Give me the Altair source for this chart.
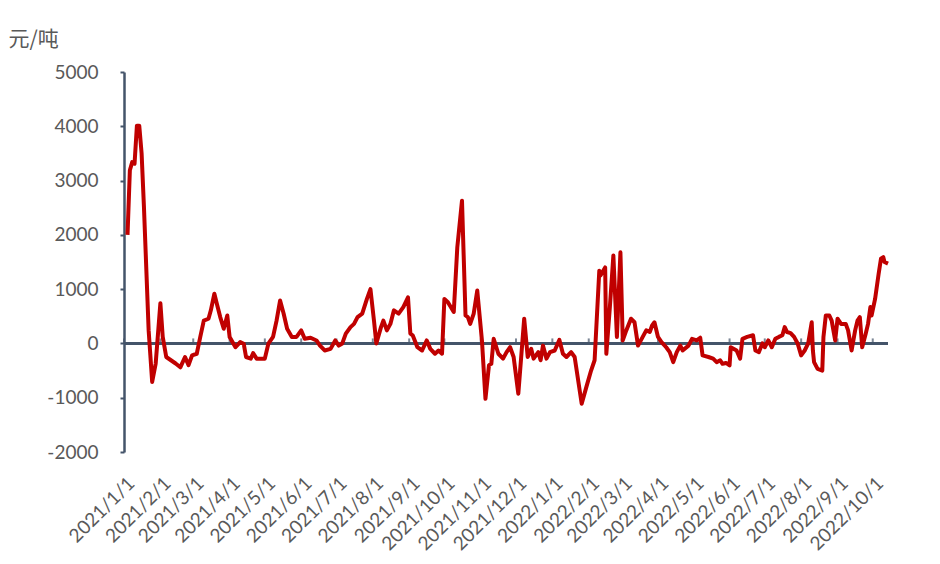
import altair as alt
import pandas as pd

dates = [
    "2021-01-04", "2021-01-06", "2021-01-08", "2021-01-10", "2021-01-12", "2021-01-14", "2021-01-16", "2021-01-18",
    "2021-01-22", "2021-01-25", "2021-01-28", "2021-02-01", "2021-02-03", "2021-02-06", "2021-02-10", "2021-02-14",
    "2021-02-18", "2021-02-22", "2021-02-25", "2021-02-28", "2021-03-04", "2021-03-07", "2021-03-10", "2021-03-14",
    "2021-03-16", "2021-03-19", "2021-03-21", "2021-03-24", "2021-03-27", "2021-03-30", "2021-04-01", "2021-04-06",
    "2021-04-10", "2021-04-13", "2021-04-15", "2021-04-19", "2021-04-21", "2021-04-24", "2021-05-01", "2021-05-04",
    "2021-05-08", "2021-05-11", "2021-05-14", "2021-05-17", "2021-05-20", "2021-05-24", "2021-05-28", "2021-06-01",
    "2021-06-04", "2021-06-09", "2021-06-14", "2021-06-17", "2021-06-21", "2021-06-26", "2021-06-30", "2021-07-03",
    "2021-07-06", "2021-07-09", "2021-07-13", "2021-07-16", "2021-07-19", "2021-07-23", "2021-07-27", "2021-07-30",
    "2021-08-02", "2021-08-04", "2021-08-08", "2021-08-10", "2021-08-13", "2021-08-16", "2021-08-19", "2021-08-23",
    "2021-08-27", "2021-08-31", "2021-09-02", "2021-09-04", "2021-09-08", "2021-09-12", "2021-09-16", "2021-09-19",
    "2021-09-23", "2021-09-26", "2021-09-29", "2021-10-01", "2021-10-04", "2021-10-09", "2021-10-12", "2021-10-16",
    "2021-10-19", "2021-10-21", "2021-10-23", "2021-10-26", "2021-10-29", "2021-11-02", "2021-11-05", "2021-11-08",
    "2021-11-10", "2021-11-12", "2021-11-16", "2021-11-20", "2021-11-23", "2021-11-26", "2021-11-29", "2021-12-03",
    "2021-12-08", "2021-12-11", "2021-12-14", "2021-12-16", "2021-12-20", "2021-12-22", "2021-12-24", "2021-12-27",
    "2021-12-30", "2022-01-03", "2022-01-07", "2022-01-10", "2022-01-13", "2022-01-17", "2022-01-20", "2022-01-26",
    "2022-01-30", "2022-02-03", "2022-02-06", "2022-02-10", "2022-02-11", "2022-02-15", "2022-02-16", "2022-02-19",
    "2022-02-22", "2022-02-25", "2022-02-28", "2022-03-02", "2022-03-05", "2022-03-09", "2022-03-12", "2022-03-15",
    "2022-03-19", "2022-03-22", "2022-03-25", "2022-03-27", "2022-03-29", "2022-04-01", "2022-04-04", "2022-04-08",
    "2022-04-11", "2022-04-14", "2022-04-17", "2022-04-20", "2022-04-22", "2022-04-27", "2022-04-30", "2022-05-04",
    "2022-05-07", "2022-05-09", "2022-05-14", "2022-05-18", "2022-05-21", "2022-05-24", "2022-05-26", "2022-05-29",
    "2022-06-01", "2022-06-02", "2022-06-07", "2022-06-10", "2022-06-12", "2022-06-16", "2022-06-21", "2022-06-23",
    "2022-06-26", "2022-06-29", "2022-07-01", "2022-07-04", "2022-07-07", "2022-07-10", "2022-07-13", "2022-07-16",
    "2022-07-18", "2022-07-20", "2022-07-23", "2022-07-26", "2022-07-29", "2022-08-01", "2022-08-04", "2022-08-07",
    "2022-08-10", "2022-08-11", "2022-08-12", "2022-08-15", "2022-08-19", "2022-08-20", "2022-08-22", "2022-08-25",
    "2022-08-27", "2022-08-30", "2022-09-01", "2022-09-04", "2022-09-08", "2022-09-10", "2022-09-13", "2022-09-16",
    "2022-09-18", "2022-09-20", "2022-09-22", "2022-09-25", "2022-09-27", "2022-09-29", "2022-09-30", "2022-10-03",
    "2022-10-06", "2022-10-08", "2022-10-10", "2022-10-11", "2022-10-14",
]

values = [
    2000, 3190, 3340, 3310, 4010, 4010, 3500, 2510,
    240, -710, -370, 740, 120, -250, -310, -370,
    -440, -250, -400, -220, -190, 120, 420, 455,
    610, 915, 740, 485, 270, 515, 120, -70,
    25, -5, -250, -280, -180, -280, -280, -5,
    120, 420, 790, 550, 270, 120, 120, 240,
    85, 105, 55, -40, -130, -100, 55, -40,
    0, 180, 300, 360, 485, 550, 820, 1000,
    420, 0, 300, 420, 240, 360, 610, 550,
    670, 850, 180, 150, -70, -130, 55, -100,
    -190, -130, -190, 820, 760, 580, 1770, 2630,
    515, 485, 360, 550, 975, 55, -1020, -400,
    -375, 85, -190, -280, -160, -70, -250, -926,
    455, -250, -100, -280, -160, -310, -40, -280,
    -160, -130, 65, -190, -250, -160, -250, -1110,
    -800, -500, -310, 1340, 1250, 1400, -190, 670,
    1620, 120, 1680, 55, 240, 455, 390, -40,
    120, 240, 210, 330, 390, 120, 25, -70,
    -160, -345, -160, -40, -130, -40, 85, 55,
    105, -220, -250, -280, -345, -310, -375, -360,
    -405, -70, -130, -280, 85, 120, 150, -130,
    -160, 0, -70, 55, -70, 85, 120, 150,
    300, 210, 190, 120, 0, -220, -130, 0,
    390, -130, -345, -470, -500, 120, 515, 515,
    420, 55, 455, 360, 360, 240, -130, 240,
    420, 485, -70, 180, 360, 670, 515, 820,
    1280, 1560, 1590, 1500, 1470,
]

month_ticks = [
    "2021-01-01", "2021-02-01", "2021-03-01", "2021-04-01", "2021-05-01", "2021-06-01",
    "2021-07-01", "2021-08-01", "2021-09-01", "2021-10-01", "2021-11-01", "2021-12-01",
    "2022-01-01", "2022-02-01", "2022-03-01", "2022-04-01", "2022-05-01", "2022-06-01",
    "2022-07-01", "2022-08-01", "2022-09-01", "2022-10-01",
]

y_ticks = [-2000, -1000, 0, 1000, 2000, 3000, 4000, 5000]

df = pd.DataFrame({"date": dates, "value": values})
ticks_df = pd.DataFrame({"date": month_ticks})

axis_color = "#44546A"
text_color = "#595959"
line_color = "#C00000"
font = "Lato"

tick_dt = [
    alt.DateTime(year=int(d[:4]), month=int(d[5:7]), date=int(d[8:10]), utc=True)
    for d in month_ticks
]

xscale = alt.Scale(type="utc", domain=["2021-01-01", "2022-10-14"])
yscale = alt.Scale(domain=[-2000, 5000], nice=False, zero=False)

x_axis = alt.Axis(
    values=tick_dt,
    format="%Y/%-m/%-d",
    labelAngle=-45,
    labelAlign="right",
    labelBaseline="middle",
    labelOffset=7,
    labelPadding=28,
    labelFont=font,
    labelFontSize=19,
    labelColor=text_color,
    labelOverlap=False,
    labelBound=False,
    labelFlush=False,
    domain=False,
    ticks=False,
    tickSize=0,
    grid=False,
    title=None,
)

y_axis = alt.Axis(
    values=y_ticks,
    labelExpr="'' + datum.value",
    labelFont=font,
    labelFontSize=19,
    labelColor=text_color,
    labelPadding=22,
    domainColor=axis_color,
    domainWidth=2.5,
    tickColor=axis_color,
    tickWidth=2,
    tickSize=4,
    grid=False,
    title="元/吨",
    titleAngle=0,
    titleAlign="left",
    titleBaseline="alphabetic",
    titleX=-116,
    titleY=-27,
    titleFont="Noto Sans CJK SC",
    titleFontSize=21,
    titleFontWeight="normal",
    titleColor=text_color,
)

x_enc = alt.X("date:T", scale=xscale, axis=x_axis)
y_enc = alt.Y("value:Q", scale=yscale, axis=y_axis)

line = alt.Chart(df).mark_line(
    color=line_color, strokeWidth=4, strokeJoin="round"
).encode(x=x_enc, y=y_enc)

zero_line = alt.Chart(df).mark_rule(color=axis_color, strokeWidth=2.5).encode(
    y=alt.datum(0, scale=yscale, axis=y_axis)
)

zero_ticks = alt.Chart(ticks_df).mark_tick(
    color=axis_color, orient="vertical", size=5, thickness=2, yOffset=-2.5
).encode(
    x=x_enc,
    y=alt.datum(0, scale=yscale, axis=y_axis),
)

chart = (
    alt.layer(zero_line, zero_ticks, line)
    .properties(
        width=764,
        height=380,
        autosize=alt.AutoSizeParams(type="none"),
        padding={"left": 116, "top": 64, "right": 44, "bottom": 110},
        background="white",
    )
    .configure_view(stroke=None)
)

chart.save("out.html", embed_options={"renderer": "svg", "actions": False})
